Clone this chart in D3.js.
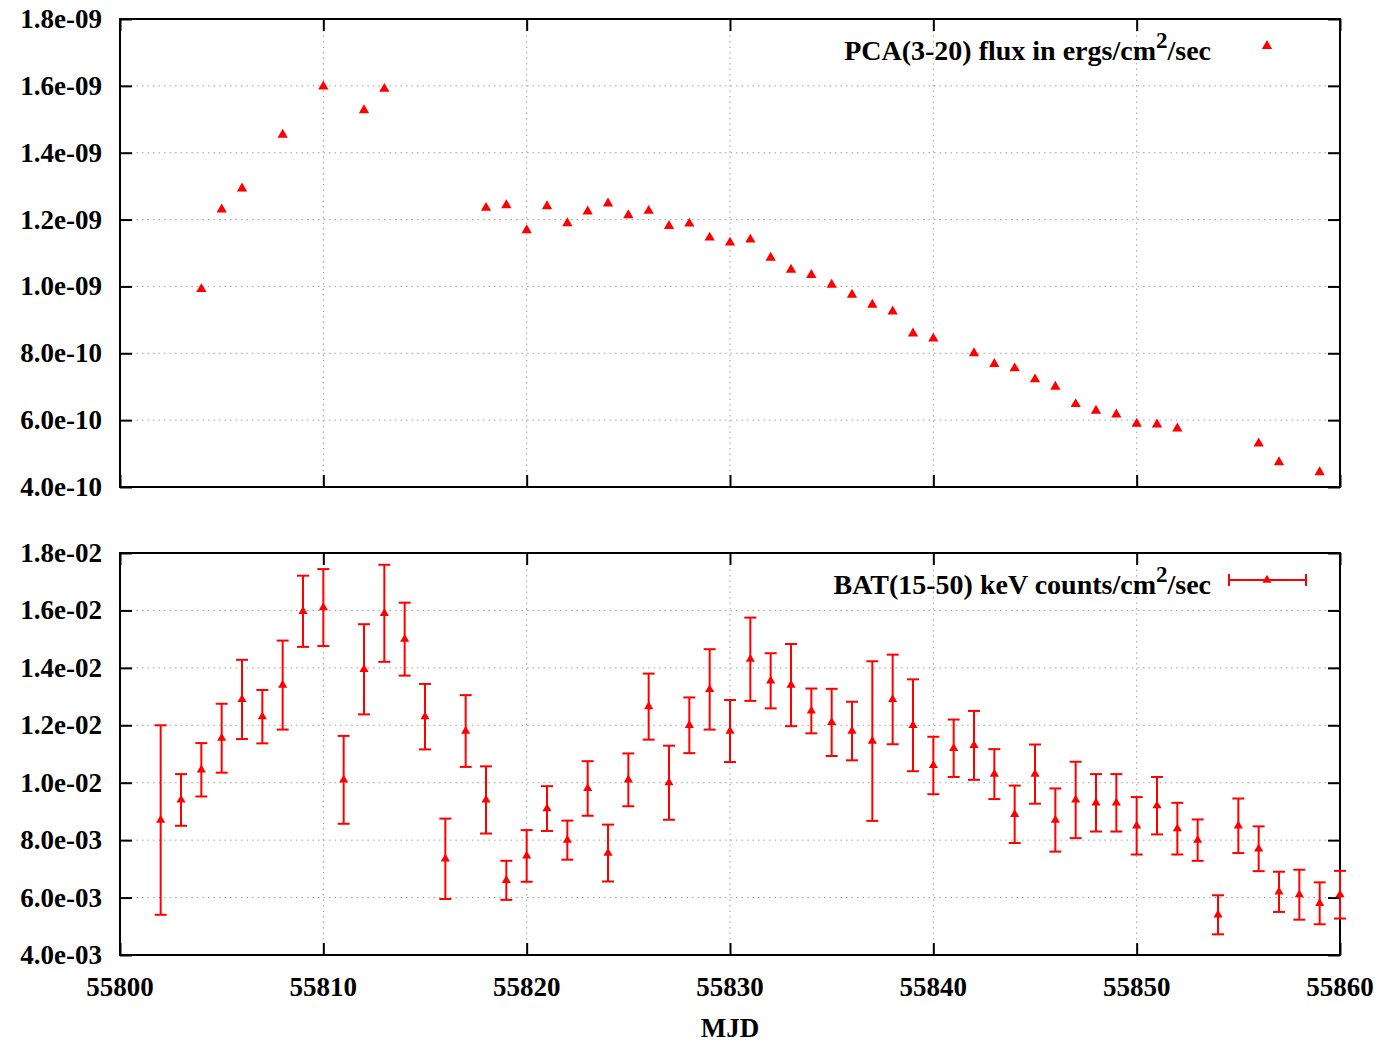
<!DOCTYPE html>
<html>
<head>
<meta charset="utf-8">
<script src="https://cdn.jsdelivr.net/npm/d3@7"></script>
<style>
  html, body { margin: 0; padding: 0; background: #fff; }
  svg text { font-family: "Liberation Serif", "Times New Roman", serif; font-weight: bold; fill: #000; }
</style>
</head>
<body>
<svg id="chart" width="1394" height="1046"></svg>
<script>
// ---------------- DATA ----------------
const xTicks = [55800, 55810, 55820, 55830, 55840, 55850, 55860];
const xTickLabels = ["55800", "55810", "55820", "55830", "55840", "55850", "55860"];

const topTicks = [4.0e-10, 6.0e-10, 8.0e-10, 1.0e-9, 1.2e-9, 1.4e-9, 1.6e-9, 1.8e-9];
const topTickLabels = ["4.0e-10", "6.0e-10", "8.0e-10", "1.0e-09", "1.2e-09", "1.4e-09", "1.6e-09", "1.8e-09"];

const botTicks = [0.004, 0.006, 0.008, 0.010, 0.012, 0.014, 0.016, 0.018];
const botTickLabels = ["4.0e-03", "6.0e-03", "8.0e-03", "1.0e-02", "1.2e-02", "1.4e-02", "1.6e-02", "1.8e-02"];

// PCA (3-20 keV) flux, ergs/cm^2/sec
const pcaDays = [55804, 55805, 55806, 55808, 55810, 55812, 55813, 55818, 55819, 55820,
                 55821, 55822, 55823, 55824, 55825, 55826, 55827, 55828, 55829, 55830,
                 55831, 55832, 55833, 55834, 55835, 55836, 55837, 55838, 55839, 55840,
                 55842, 55843, 55844, 55845, 55846, 55847, 55848, 55849, 55850, 55851,
                 55852, 55856, 55857, 55859];
const pcaFlux = [0.992e-9, 1.230e-9, 1.293e-9, 1.454e-9, 1.598e-9, 1.527e-9, 1.591e-9, 1.235e-9, 1.243e-9, 1.168e-9,
                 1.240e-9, 1.189e-9, 1.224e-9, 1.248e-9, 1.213e-9, 1.226e-9, 1.181e-9, 1.188e-9, 1.146e-9, 1.131e-9,
                 1.140e-9, 1.086e-9, 1.050e-9, 1.034e-9, 1.005e-9, 0.975e-9, 0.945e-9, 0.925e-9, 0.859e-9, 0.844e-9,
                 0.800e-9, 0.768e-9, 0.755e-9, 0.722e-9, 0.700e-9, 0.648e-9, 0.628e-9, 0.617e-9, 0.589e-9, 0.587e-9,
                 0.575e-9, 0.530e-9, 0.474e-9, 0.444e-9];

// BAT (15-50 keV) counts/cm^2/sec with errors
const batDays = [55802, 55803, 55804, 55805, 55806, 55807, 55808, 55809, 55810, 55811,
                 55812, 55813, 55814, 55815, 55816, 55817, 55818, 55819, 55820, 55821,
                 55822, 55823, 55824, 55825, 55826, 55827, 55828, 55829, 55830, 55831,
                 55832, 55833, 55834, 55835, 55836, 55837, 55838, 55839, 55840, 55841,
                 55842, 55843, 55844, 55845, 55846, 55847, 55848, 55849, 55850, 55851,
                 55852, 55853, 55854, 55855, 55856, 55857, 55858, 55859, 55860];
const batRate = [0.0087, 0.0094, 0.01045, 0.01155, 0.0129, 0.0123, 0.0134, 0.01597, 0.0161, 0.0101,
                 0.01395, 0.0159, 0.0150, 0.0123, 0.00735, 0.0118, 0.0094, 0.0066, 0.00745, 0.0091,
                 0.0080, 0.0098, 0.00755, 0.0101, 0.01265, 0.0100, 0.0120, 0.01325, 0.0118, 0.0143,
                 0.01355, 0.0134, 0.0125, 0.0121, 0.0118, 0.01145, 0.0129, 0.0120, 0.0106, 0.0112,
                 0.0113, 0.0103, 0.0089, 0.0103, 0.0087, 0.0094, 0.0093, 0.0093, 0.0085, 0.0092,
                 0.0084, 0.0080, 0.0054, 0.0085, 0.0077, 0.0062, 0.0061, 0.0058, 0.0061];
const batErr  = [0.0033, 0.0009, 0.00093, 0.0012, 0.00138, 0.00093, 0.00155, 0.00124, 0.00134, 0.00153,
                 0.00157, 0.00169, 0.00127, 0.00114, 0.0014, 0.00125, 0.00117, 0.00068, 0.0009, 0.00078,
                 0.00068, 0.00095, 0.00099, 0.00092, 0.00115, 0.00129, 0.00097, 0.0014, 0.00108, 0.00145,
                 0.00096, 0.00143, 0.00078, 0.00117, 0.00102, 0.00278, 0.00156, 0.0016, 0.001, 0.001,
                 0.0012, 0.00087, 0.001, 0.00103, 0.0011, 0.00133, 0.001, 0.001, 0.001, 0.001,
                 0.0009, 0.00072, 0.00068, 0.00095, 0.00078, 0.0007, 0.00087, 0.00073, 0.00083];

const topLegend = {pre: "PCA(3-20) flux in ergs/cm", sup: "2", post: "/sec"};
const botLegend = {pre: "BAT(15-50) keV counts/cm", sup: "2", post: "/sec"};
const xTitle = "MJD";

// ---------------- LAYOUT ----------------
const svg = d3.select("#chart");
const L = 120, R = 1340;
const topPanel = {t: 19, b: 487};
const botPanel = {t: 553, b: 955};
const red = "#ff0000";

const x = d3.scaleLinear().domain([55800, 55860]).range([L, R]);
const yTop = d3.scaleLinear().domain([4e-10, 1.8e-9]).range([topPanel.b, topPanel.t]);
const yBot = d3.scaleLinear().domain([0.004, 0.018]).range([botPanel.b, botPanel.t]);

function drawPanel(y, panel, ticks, labels, showXLabels) {
  const g = svg.append("g");
  // grid
  g.selectAll("line.hg").data(ticks.slice(1, -1)).enter().append("line")
    .attr("x1", L).attr("x2", R).attr("y1", d => y(d)).attr("y2", d => y(d))
    .attr("stroke", "#a0a0a0").attr("stroke-width", 1).attr("stroke-dasharray", "1.5,4");
  g.selectAll("line.vg").data(xTicks.slice(1, -1)).enter().append("line")
    .attr("y1", panel.t).attr("y2", panel.b).attr("x1", d => x(d)).attr("x2", d => x(d))
    .attr("stroke", "#a0a0a0").attr("stroke-width", 1).attr("stroke-dasharray", "1.5,4");

  // axes via d3 (inward ticks)
  const tl = 12;
  const axL = g.append("g").attr("transform", `translate(${L},0)`)
    .call(d3.axisRight(y).tickValues(ticks).tickSize(tl).tickFormat(""));
  const axR = g.append("g").attr("transform", `translate(${R},0)`)
    .call(d3.axisLeft(y).tickValues(ticks).tickSize(tl).tickFormat(""));
  const axB = g.append("g").attr("transform", `translate(0,${panel.b})`)
    .call(d3.axisTop(x).tickValues(xTicks).tickSize(tl).tickFormat(""));
  const axT = g.append("g").attr("transform", `translate(0,${panel.t})`)
    .call(d3.axisBottom(x).tickValues(xTicks).tickSize(tl).tickFormat(""));
  [axL, axR, axB, axT].forEach(a => {
    a.select(".domain").remove();
    a.selectAll(".tick line").attr("stroke", "#000").attr("stroke-width", 2);
  });

  // y tick labels
  g.selectAll("text.yl").data(ticks).enter().append("text")
    .attr("x", 102).attr("y", d => y(d) + 9)
    .attr("text-anchor", "end").attr("font-size", 27)
    .text((d, i) => labels[i]);

  if (showXLabels) {
    g.selectAll("text.xl").data(xTicks).enter().append("text")
      .attr("x", d => x(d)).attr("y", panel.b + 41)
      .attr("text-anchor", "middle").attr("font-size", 27)
      .text((d, i) => xTickLabels[i]);
  }

  // frame
  g.append("rect").attr("x", L).attr("y", panel.t).attr("width", R - L).attr("height", panel.b - panel.t)
    .attr("fill", "none").attr("stroke", "#000").attr("stroke-width", 2);
  return g;
}

drawPanel(yTop, topPanel, topTicks, topTickLabels, false);
drawPanel(yBot, botPanel, botTicks, botTickLabels, true);

const triTop = d3.symbol().type(d3.symbolTriangle).size(46);
const triBot = d3.symbol().type(d3.symbolTriangle).size(36);

// top series
const pca = pcaDays.map((d, i) => ({x: d, y: pcaFlux[i]}));
svg.append("g").selectAll("path").data(pca).enter().append("path")
  .attr("d", triTop).attr("fill", red)
  .attr("transform", d => `translate(${x(d.x)},${yTop(d.y)})`);

// bottom series
const bat = batDays.map((d, i) => ({x: d, y: batRate[i], e: batErr[i]}));
const gb = svg.append("g");
const cap = 6;
const eb = gb.selectAll("g.eb").data(bat).enter().append("g");
eb.append("line").attr("x1", d => x(d.x)).attr("x2", d => x(d.x))
  .attr("y1", d => yBot(d.y - d.e)).attr("y2", d => yBot(d.y + d.e))
  .attr("stroke", red).attr("stroke-width", 2);
eb.append("line").attr("x1", d => x(d.x) - cap).attr("x2", d => x(d.x) + cap)
  .attr("y1", d => yBot(d.y + d.e)).attr("y2", d => yBot(d.y + d.e))
  .attr("stroke", red).attr("stroke-width", 2);
eb.append("line").attr("x1", d => x(d.x) - cap).attr("x2", d => x(d.x) + cap)
  .attr("y1", d => yBot(d.y - d.e)).attr("y2", d => yBot(d.y - d.e))
  .attr("stroke", red).attr("stroke-width", 2);
eb.append("path").attr("d", triBot).attr("fill", red)
  .attr("transform", d => `translate(${x(d.x)},${yBot(d.y)})`);

// legends
function legendText(lg, xEnd, yBase) {
  const t = svg.append("text").attr("x", xEnd).attr("y", yBase)
    .attr("text-anchor", "end").attr("font-size", 28);
  t.append("tspan").text(lg.pre);
  t.append("tspan").attr("dy", -12).attr("font-size", 23).text(lg.sup);
  t.append("tspan").attr("dy", 12).text(lg.post);
}
legendText(topLegend, 1211, 60);
svg.append("path").attr("d", triTop).attr("fill", red).attr("transform", "translate(1267,46)");

legendText(botLegend, 1211, 594);
const lgY = 580;
svg.append("line").attr("x1", 1229).attr("x2", 1306).attr("y1", lgY).attr("y2", lgY).attr("stroke", red).attr("stroke-width", 2);
svg.append("line").attr("x1", 1229).attr("x2", 1229).attr("y1", lgY - 6).attr("y2", lgY + 6).attr("stroke", red).attr("stroke-width", 2);
svg.append("line").attr("x1", 1306).attr("x2", 1306).attr("y1", lgY - 6).attr("y2", lgY + 6).attr("stroke", red).attr("stroke-width", 2);
svg.append("path").attr("d", triBot).attr("fill", red).attr("transform", `translate(1267,${lgY})`);

// x title
svg.append("text").attr("x", x(55830)).attr("y", 1037).attr("text-anchor", "middle")
  .attr("font-size", 27).text(xTitle);
</script>
</body>
</html>
